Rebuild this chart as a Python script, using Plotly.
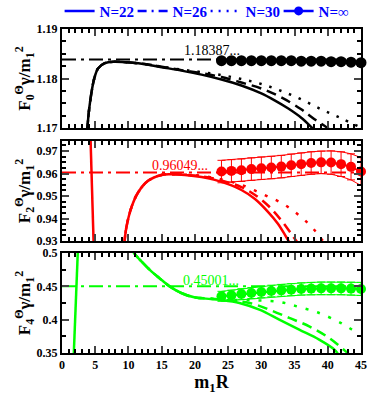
import plotly.graph_objects as go

# common x grid of the N=inf extrapolated points
x_inf = [24, 25.5, 27, 28.5, 30, 31.5, 33, 34.5, 36, 37.5, 39, 40.5, 42, 43.5, 45]

# ---- panel 1 : F0 (black) ----
f0_limit = 1.18387
f0_x22 = [3.7, 3.8, 4.1, 4.45, 4.85, 5.45, 6.45, 7.7, 9.5, 12, 15, 18, 21, 24, 27, 30, 32, 34, 36, 37.7, 38.5]
f0_y22 = [1.1690, 1.1700, 1.1740, 1.1773, 1.1800, 1.1821, 1.1831, 1.1834, 1.1833, 1.1830, 1.1823, 1.1816,
          1.1808, 1.1798, 1.1786, 1.1770, 1.1756, 1.1740, 1.1721, 1.1700, 1.1690]
f0_x26 = [3.7, 3.8, 4.1, 4.45, 4.85, 5.45, 6.45, 7.7, 9.5, 12, 15, 18, 21, 24, 27, 30, 33, 36, 38, 40, 41]
f0_y26 = [1.1690, 1.1700, 1.1740, 1.1773, 1.1800, 1.1821, 1.1831, 1.1834, 1.1833, 1.1830, 1.1824, 1.1817,
          1.1811, 1.1803, 1.1792, 1.1780, 1.1762, 1.1738, 1.1718, 1.1700, 1.1689]
f0_x30 = [3.7, 3.8, 4.1, 4.45, 4.85, 5.45, 6.45, 7.7, 9.5, 12, 15, 18, 21, 24, 27, 30, 33, 36, 39, 42, 45]
f0_y30 = [1.1690, 1.1700, 1.1740, 1.1773, 1.1800, 1.1821, 1.1831, 1.1834, 1.1833, 1.1830, 1.1824, 1.1818,
          1.1813, 1.1807, 1.1799, 1.1789, 1.1775, 1.1758, 1.1738, 1.1720, 1.1701]
f0_inf = [1.1836, 1.1836, 1.1836, 1.1836, 1.1836, 1.1836, 1.1836, 1.1836, 1.1835, 1.1835, 1.1835, 1.1834,
          1.1834, 1.1833, 1.1832]

# ---- panel 2 : F2 (red) ----
f2_limit = 0.96049
f2_pole_x = [4.15, 4.85]
f2_pole_y = [0.99, 0.92]
f2_x22 = [9.35, 9.7, 10.45, 11.45, 12.95, 14.95, 16.4, 18.5, 21, 23, 25, 27, 29, 31, 32.5, 33.7, 34.2]
f2_y22 = [0.9280, 0.9362, 0.9450, 0.9516, 0.9568, 0.9594, 0.9597, 0.9594, 0.9585, 0.9572, 0.9553, 0.9527,
          0.9488, 0.9430, 0.9377, 0.9320, 0.9295]
f2_x26 = [9.35, 9.7, 10.45, 11.45, 12.95, 14.95, 16.4, 18.5, 21, 23, 25, 27, 29, 31, 33, 34.5, 35.4]
f2_y26 = [0.9280, 0.9362, 0.9450, 0.9516, 0.9568, 0.9594, 0.9597, 0.9595, 0.9588, 0.9577, 0.9561, 0.9540,
          0.9506, 0.9458, 0.9392, 0.9332, 0.9295]
f2_x30 = [9.35, 9.7, 10.45, 11.45, 12.95, 14.95, 16.4, 18.5, 21, 23, 25, 27, 29, 31, 33, 35, 37, 38.5, 39.5]
f2_y30 = [0.9280, 0.9362, 0.9450, 0.9516, 0.9568, 0.9594, 0.9597, 0.9595, 0.9590, 0.9580, 0.9567, 0.9550,
          0.9525, 0.9498, 0.9470, 0.9430, 0.9380, 0.9330, 0.9290]
f2_inf = [0.9609, 0.9612, 0.9615, 0.9620, 0.9624, 0.9627, 0.9631, 0.9637, 0.9642, 0.9647, 0.9650, 0.9649,
          0.9642, 0.9630, 0.9609]
f2_err = [0.0050, 0.0050, 0.0050, 0.0050, 0.0050, 0.0050, 0.0050, 0.0050, 0.0050, 0.0050, 0.0050, 0.0052,
          0.0055, 0.0058, 0.0062]

# ---- panel 3 : F4 (green) ----
f4_limit = 0.45001
f4_pole_x = [1.7, 2.45]
f4_pole_y = [0.33, 0.52]
f4_x22 = [10.6, 10.85, 11.95, 13.45, 14.95, 16.2, 17.95, 19.9, 22.4, 24, 26.7, 29.7, 32.7, 35.7, 38.7, 41, 41.5]
f4_y22 = [0.505, 0.500, 0.4875, 0.4725, 0.4600, 0.4500, 0.4400, 0.4335, 0.4310, 0.4295, 0.4251, 0.4150,
          0.4000, 0.3850, 0.3700, 0.3550, 0.3490]
f4_x26 = [10.6, 10.85, 11.95, 13.45, 14.95, 16.2, 17.95, 19.9, 22.4, 25, 28.2, 31.2, 34.2, 37.2, 40.2, 42.7, 43.2]
f4_y26 = [0.505, 0.500, 0.4875, 0.4725, 0.4600, 0.4500, 0.4400, 0.4335, 0.4315, 0.4290, 0.4251, 0.4150,
          0.4026, 0.3900, 0.3725, 0.3524, 0.3480]
f4_x30 = [10.6, 10.85, 11.95, 13.45, 14.95, 16.2, 17.95, 19.9, 22.4, 25, 29, 32.7, 35.7, 38.7, 41.2, 42.7, 43.9, 44.8]
f4_y30 = [0.505, 0.500, 0.4875, 0.4725, 0.4600, 0.4500, 0.4400, 0.4335, 0.4318, 0.4300, 0.4290, 0.4266,
          0.4190, 0.4100, 0.3990, 0.3910, 0.3835, 0.3790]
f4_inf = [0.4350, 0.4365, 0.4385, 0.4400, 0.4415, 0.4430, 0.4440, 0.4450, 0.4461, 0.4466, 0.4470, 0.4470,
          0.4470, 0.4466, 0.4461]
f4_err = [0.0075, 0.0078, 0.0080, 0.0083, 0.0085, 0.0087, 0.0089, 0.0090, 0.0092, 0.0093, 0.0094, 0.0095,
          0.0096, 0.0097, 0.0098]

x_ticks = [0, 5, 10, 15, 20, 25, 30, 35, 40, 45]

SERIF = "Liberation Serif"
BLACK, RED, GREEN, BLUE = "#000000", "#ff0000", "#00ff00", "#0000ff"

fig = go.Figure()


def add_panel(n, color, c22, c26, c30, limit, y_inf, err=None, pole=None, dash30="2px,8px"):
    xa, ya = ("x", "y") if n == 1 else ("x%d" % n, "y%d" % n)
    kw = dict(xaxis=xa, yaxis=ya, showlegend=False, hoverinfo="skip")
    if pole:
        fig.add_trace(go.Scatter(x=pole[0], y=pole[1], mode="lines",
                                 line=dict(color=color, width=2.5), **kw))
    fig.add_trace(go.Scatter(x=c22[0], y=c22[1], mode="lines",
                             line=dict(color=color, width=2.5, shape="spline"), **kw))
    fig.add_trace(go.Scatter(x=c26[0], y=c26[1], mode="lines",
                             line=dict(color=color, width=2.5, dash="10px,6px", shape="spline"), **kw))
    fig.add_trace(go.Scatter(x=c30[0], y=c30[1], mode="lines",
                             line=dict(color=color, width=2.5, dash=dash30, shape="spline"), **kw))
    fig.add_trace(go.Scatter(x=[0, 45], y=[limit, limit], mode="lines",
                             line=dict(color=color, width=2, dash="14px,5px,3px,5px"), **kw))
    if err:
        up = [v + e for v, e in zip(y_inf, err)]
        lo = [v - e for v, e in zip(y_inf, err)]
        for band in (up, lo):
            fig.add_trace(go.Scatter(x=x_inf, y=band, mode="lines",
                                     line=dict(color=color, width=1), **kw))
        fig.add_trace(go.Scatter(x=x_inf, y=y_inf, mode="lines+markers",
                                 line=dict(color=color, width=2),
                                 marker=dict(color=color, size=10),
                                 error_y=dict(type="data", array=err, color=color, thickness=1, width=4),
                                 cliponaxis=False, **kw))
    else:
        fig.add_trace(go.Scatter(x=x_inf, y=y_inf, mode="lines+markers",
                                 line=dict(color=color, width=2),
                                 marker=dict(color=color, size=11), cliponaxis=False, **kw))


add_panel(1, BLACK, (f0_x22, f0_y22), (f0_x26, f0_y26), (f0_x30, f0_y30), f0_limit, f0_inf,
          dash30="2.5px,8px")
add_panel(2, RED, (f2_x22, f2_y22), (f2_x26, f2_y26), (f2_x30, f2_y30), f2_limit, f2_inf, f2_err,
          pole=(f2_pole_x, f2_pole_y), dash30="3px,9px")
add_panel(3, GREEN, (f4_x22, f4_y22), (f4_x26, f4_y26), (f4_x30, f4_y30), f4_limit, f4_inf, f4_err,
          pole=(f4_pole_x, f4_pole_y), dash30="3px,9px")

# legend entries (blue, drawn nowhere)
legend_items = [("N=22", "solid", "lines"), ("N=26", "9px,5px,2px,5px", "lines"),
                ("N=30", "2px,6px", "lines"), ("N=∞", "solid", "lines+markers")]
for name, dash, mode in legend_items:
    fig.add_trace(go.Scatter(x=[None], y=[None], mode=mode, name="<b>%s</b>" % name,
                             line=dict(color=BLUE, width=2.5, dash=dash),
                             marker=dict(color=BLUE, size=9)))

# limit value labels
labels = [("1.18387...", 22.5, 1.1856, BLACK, "x", "y"),
          ("0.96049...", 17.7, 0.9634, RED, "x2", "y2"),
          ("0.45001...", 22.4, 0.4592, GREEN, "x3", "y3")]
for text, lx, ly, col, xr, yr in labels:
    fig.add_annotation(x=lx, y=ly, xref=xr, yref=yr, text=text, showarrow=False,
                       font=dict(family=SERIF, size=14, color=col))

axis_common = dict(range=[0, 45], ticks="inside", ticklen=7, tickwidth=1.5,
                   showline=True, linewidth=2, linecolor="black", mirror="allticks",
                   showgrid=False, zeroline=False, tickvals=x_ticks,
                   minor=dict(ticks="inside", ticklen=4, dtick=1, tick0=0, tickcolor="black", showgrid=False),
                   tickfont=dict(family=SERIF, size=12, color="black"))
y_common = dict(ticks="inside", ticklen=7, tickwidth=1.5, showline=True, linewidth=2,
                linecolor="black", mirror="allticks", showgrid=False, zeroline=False,
                tickfont=dict(family=SERIF, size=12, color="black"),
                title_font=dict(family=SERIF, size=17, color="black"), title_standoff=0)

fig.update_layout(
    width=374, height=395,
    margin=dict(l=62, r=13, t=29, b=42, autoexpand=False),
    paper_bgcolor="white", plot_bgcolor="white",
    font=dict(family=SERIF, color="black"),
    legend=dict(orientation="h", x=-0.008, y=1.055, xanchor="left", yanchor="middle",
                font=dict(family=SERIF, size=15, color=BLUE), itemwidth=30,
                entrywidth=28, tracegroupgap=0, bgcolor="rgba(0,0,0,0)"),
    xaxis=dict(axis_common, domain=[0, 1], anchor="y", showticklabels=False, matches="x3"),
    xaxis2=dict(axis_common, domain=[0, 1], anchor="y2", showticklabels=False, matches="x3"),
    xaxis3=dict(axis_common, domain=[0, 1], anchor="y3",
                ticktext=["<b>%d</b>" % v for v in x_ticks],
                title=dict(text="<b>m<sub>1</sub>R</b>", font=dict(family=SERIF, size=18), standoff=0)),
    yaxis=dict(y_common, domain=[0.694, 1.0], anchor="x", range=[1.17, 1.19],
               tickvals=[1.17, 1.18, 1.19], ticktext=["<b>1.17</b>", "<b>1.18</b>", "<b>1.19</b>"],
               minor=dict(ticks="inside", ticklen=4, dtick=0.0025, tickcolor="black"),
               title=dict(text="<b>F<sub>0</sub><sup>Θ</sup>γ/m<sub>1</sub><sup>2</sup></b>")),
    yaxis2=dict(y_common, domain=[0.3457, 0.6543], anchor="x2", range=[0.93, 0.9745],
                tickvals=[0.93, 0.94, 0.95, 0.96, 0.97],
                ticktext=["<b>0.93</b>", "<b>0.94</b>", "<b>0.95</b>", "<b>0.96</b>", "<b>0.97</b>"],
                minor=dict(ticks="inside", ticklen=4, dtick=0.0025, tickcolor="black"),
                title=dict(text="<b>F<sub>2</sub><sup>Θ</sup>γ/m<sub>1</sub><sup>2</sup></b>")),
    yaxis3=dict(y_common, domain=[0, 0.3086], anchor="x3", range=[0.35, 0.5],
                tickvals=[0.35, 0.4, 0.45, 0.5],
                ticktext=["<b>0.35</b>", "<b>0.4</b>", "<b>0.45</b>", "<b>0.5</b>"],
                minor=dict(ticks="inside", ticklen=4, dtick=0.025, tickcolor="black"),
                title=dict(text="<b>F<sub>4</sub><sup>Θ</sup>γ/m<sub>1</sub><sup>2</sup></b>")),
)

fig.write_html("out.html", config={"displayModeBar": False},
               post_script="document.body.style.margin='0';")
